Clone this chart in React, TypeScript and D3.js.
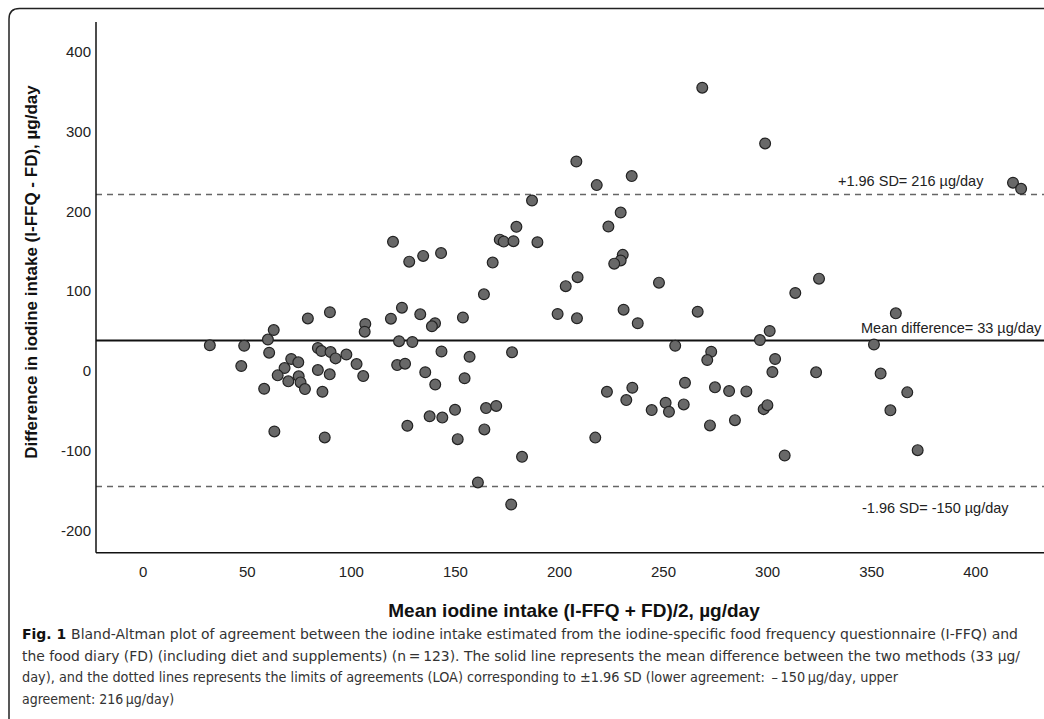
import * as d3 from "d3";

// mean of the two methods (x) and their difference (y), µg/day
const meanIntake = [32, 48.5, 47.1, 62.7, 59.9, 60.5, 58.1, 63.0, 71.1, 67.9, 64.6, 69.7, 74.5, 74.7, 75.6, 77.7, 79.1, 89.7, 83.9, 85.6, 90.0, 92.4, 97.6, 83.9, 89.6, 86.1, 87.2, 102.5, 105.7, 106.7, 106.4, 119.0, 124.3, 133.1, 140.2, 138.7, 122.9, 129.3, 122.0, 125.8, 135.5, 140.3, 143.3, 126.9, 137.6, 143.7, 120.0, 127.8, 134.5, 143.1, 153.6, 156.8, 154.4, 149.8, 151.1, 160.8, 163.7, 163.9, 217.9, 234.7, 208.1, 186.8, 229.4, 223.5, 179.3, 171.3, 173.2, 177.9, 189.4, 167.9, 230.4, 229.4, 226.3, 208.7, 203.0, 247.8, 199.1, 208.4, 230.8, 237.6, 177.2, 222.8, 235.0, 232.1, 244.3, 164.7, 169.6, 217.2, 182.0, 176.8, 268.6, 298.8, 266.4, 313.3, 324.7, 255.6, 272.9, 271.0, 296.3, 301.0, 303.6, 302.3, 323.3, 260.3, 274.7, 281.5, 289.8, 251.0, 252.6, 259.7, 272.3, 284.3, 298.1, 299.9, 308.2, 351.1, 354.3, 361.6, 367.1, 359.0, 372.1, 417.9, 421.8];
const diffIntake = [26.9, 26.3, 0.9, 46.0, 34.1, 17.6, -27.6, -81.1, 9.7, -1.6, -10.8, -18.3, 5.5, -12.0, -19.6, -28.0, 60.5, 68.3, 23.5, 19.7, 18.4, 10.5, 15.3, -4.1, -9.5, -31.4, -88.6, 3.4, -11.7, 53.6, 43.9, 60.2, 74.0, 65.7, 54.5, 50.7, 32.0, 31.0, 2.1, 3.8, -6.9, -22.3, 19.1, -74.0, -62.1, -63.7, 156.5, 131.7, 138.9, 142.4, 61.7, 12.5, -14.4, -54.0, -90.7, -145.0, 90.8, -78.5, 227.6, 238.9, 257.2, 208.3, 193.2, 175.7, 175.3, 159.3, 156.8, 157.3, 156.1, 130.5, 140.2, 133.2, 129.2, 112.2, 101.0, 105.4, 66.1, 60.7, 71.5, 54.5, 18.1, -31.4, -26.3, -41.8, -54.3, -51.8, -49.1, -88.8, -112.9, -172.6, 349.7, 279.8, 69.0, 92.5, 110.4, 26.3, 18.8, 8.4, 33.5, 44.8, 9.7, -6.6, -7.0, -20.1, -25.8, -30.5, -30.9, -45.2, -56.5, -47.2, -73.5, -66.9, -53.1, -48.1, -111.2, 27.9, -8.5, 66.9, -32.1, -54.6, -104.5, 230.6, 223.0];

const meanDiff = 33;
const upperLoa = 216;
const lowerLoa = -150;

const xTicks = [0, 50, 100, 150, 200, 250, 300, 350, 400];
const yTicks = [-200, -100, 0, 100, 200, 300, 400];

const captionLines = [
  "Bland-Altman plot of agreement between the iodine intake estimated from the iodine-specific food frequency questionnaire (I-FFQ) and",
  "the food diary (FD) (including diet and supplements) (n\u2009=\u2009123). The solid line represents the mean difference between the two methods (33 \u00b5g/",
  "day), and the dotted lines represents the limits of agreements (LOA) corresponding to \u00b11.96 SD (lower agreement: \u2009\u2013\u2009150\u2009\u00b5g/day, upper",
  "agreement: 216\u2009\u00b5g/day)",
];
// last line keeps its natural width
const captionWidths = [996, 998, 876, undefined];

const W = 1044, H = 719;
const left = 96, top = 22, right = 1044, bottom = 552.7;
const font = "'Liberation Sans', Arial, sans-serif";
const capFont = "'DejaVu Sans Condensed', 'Liberation Sans Narrow', sans-serif";

export default function App() {
  const x = d3.scaleLinear().domain([-22.7, 432.8]).range([left, right]);
  const y = d3.scaleLinear().domain([-233, 432]).range([bottom, top]);
  const pts = meanIntake.map((m, i) => ({ m, d: diffIntake[i] }));

  return (
    <svg width={W} height={H} style={{ position: "absolute", left: 0, top: 0, background: "#fff" }}>
      <path d={`M9,${H} L9,19 Q9,8.5 19.5,8.5 L${W},8.5`} fill="none" stroke="#222" strokeWidth={1.5} />

      {/* reference lines */}
      <line x1={left} x2={right} y1={y(upperLoa)} y2={y(upperLoa)} stroke="#666" strokeWidth={1.5} strokeDasharray="6,5" />
      <line x1={left} x2={right} y1={y(lowerLoa)} y2={y(lowerLoa)} stroke="#666" strokeWidth={1.5} strokeDasharray="6,5" />
      <line x1={left} x2={right} y1={y(meanDiff)} y2={y(meanDiff)} stroke="#111" strokeWidth={2} />

      <g fontFamily={font} fontSize={14.5} fill="#222">
        <text x={838} y={y(upperLoa) - 8}>+1.96 SD= 216 µg/day</text>
        <text x={861} y={y(meanDiff) - 7}>Mean difference= 33 µg/day</text>
        <text x={862} y={y(lowerLoa) + 27}>-1.96 SD= -150 µg/day</text>
      </g>

      {pts.map((p, i) => (
        <circle key={i} cx={x(p.m)} cy={y(p.d)} r={5.4} fill="#686868" stroke="#222" strokeWidth={1.2} />
      ))}

      {/* axes */}
      <line x1={left} x2={left} y1={top} y2={bottom} stroke="#111" strokeWidth={1.5} />
      <line x1={left} x2={right} y1={bottom} y2={bottom} stroke="#111" strokeWidth={1.5} />

      <g fontFamily={font} fontSize={15} fill="#222">
        {yTicks.map(t => (
          <text key={t} x={91} y={y(t) + 9.5} textAnchor="end">{t}</text>
        ))}
        {xTicks.map(t => (
          <text key={t} x={x(t)} y={576.5} textAnchor="middle">{t}</text>
        ))}
      </g>

      <text transform={`translate(37,272) rotate(-90)`} textAnchor="middle" fontFamily={font}
        fontWeight="bold" fontSize={17} fill="#111">
        Difference in iodine intake (I-FFQ - FD), µg/day
      </text>
      <text x={574} y={617} textAnchor="middle" fontFamily={font} fontWeight="bold" fontSize={19} fill="#111">
        Mean iodine intake (I-FFQ + FD)/2, µg/day
      </text>

      <g fontFamily={capFont} fontSize={14} fill="#333">
        {captionLines.map((line, i) => (
          <text key={i} x={22} y={639 + i * 21.5}
            {...(captionWidths[i] ? { textLength: captionWidths[i], lengthAdjust: "spacingAndGlyphs" } : {})}>
            {i === 0 && <tspan fontWeight="bold" fill="#111">Fig. 1 </tspan>}
            {line}
          </text>
        ))}
      </g>
    </svg>
  );
}
